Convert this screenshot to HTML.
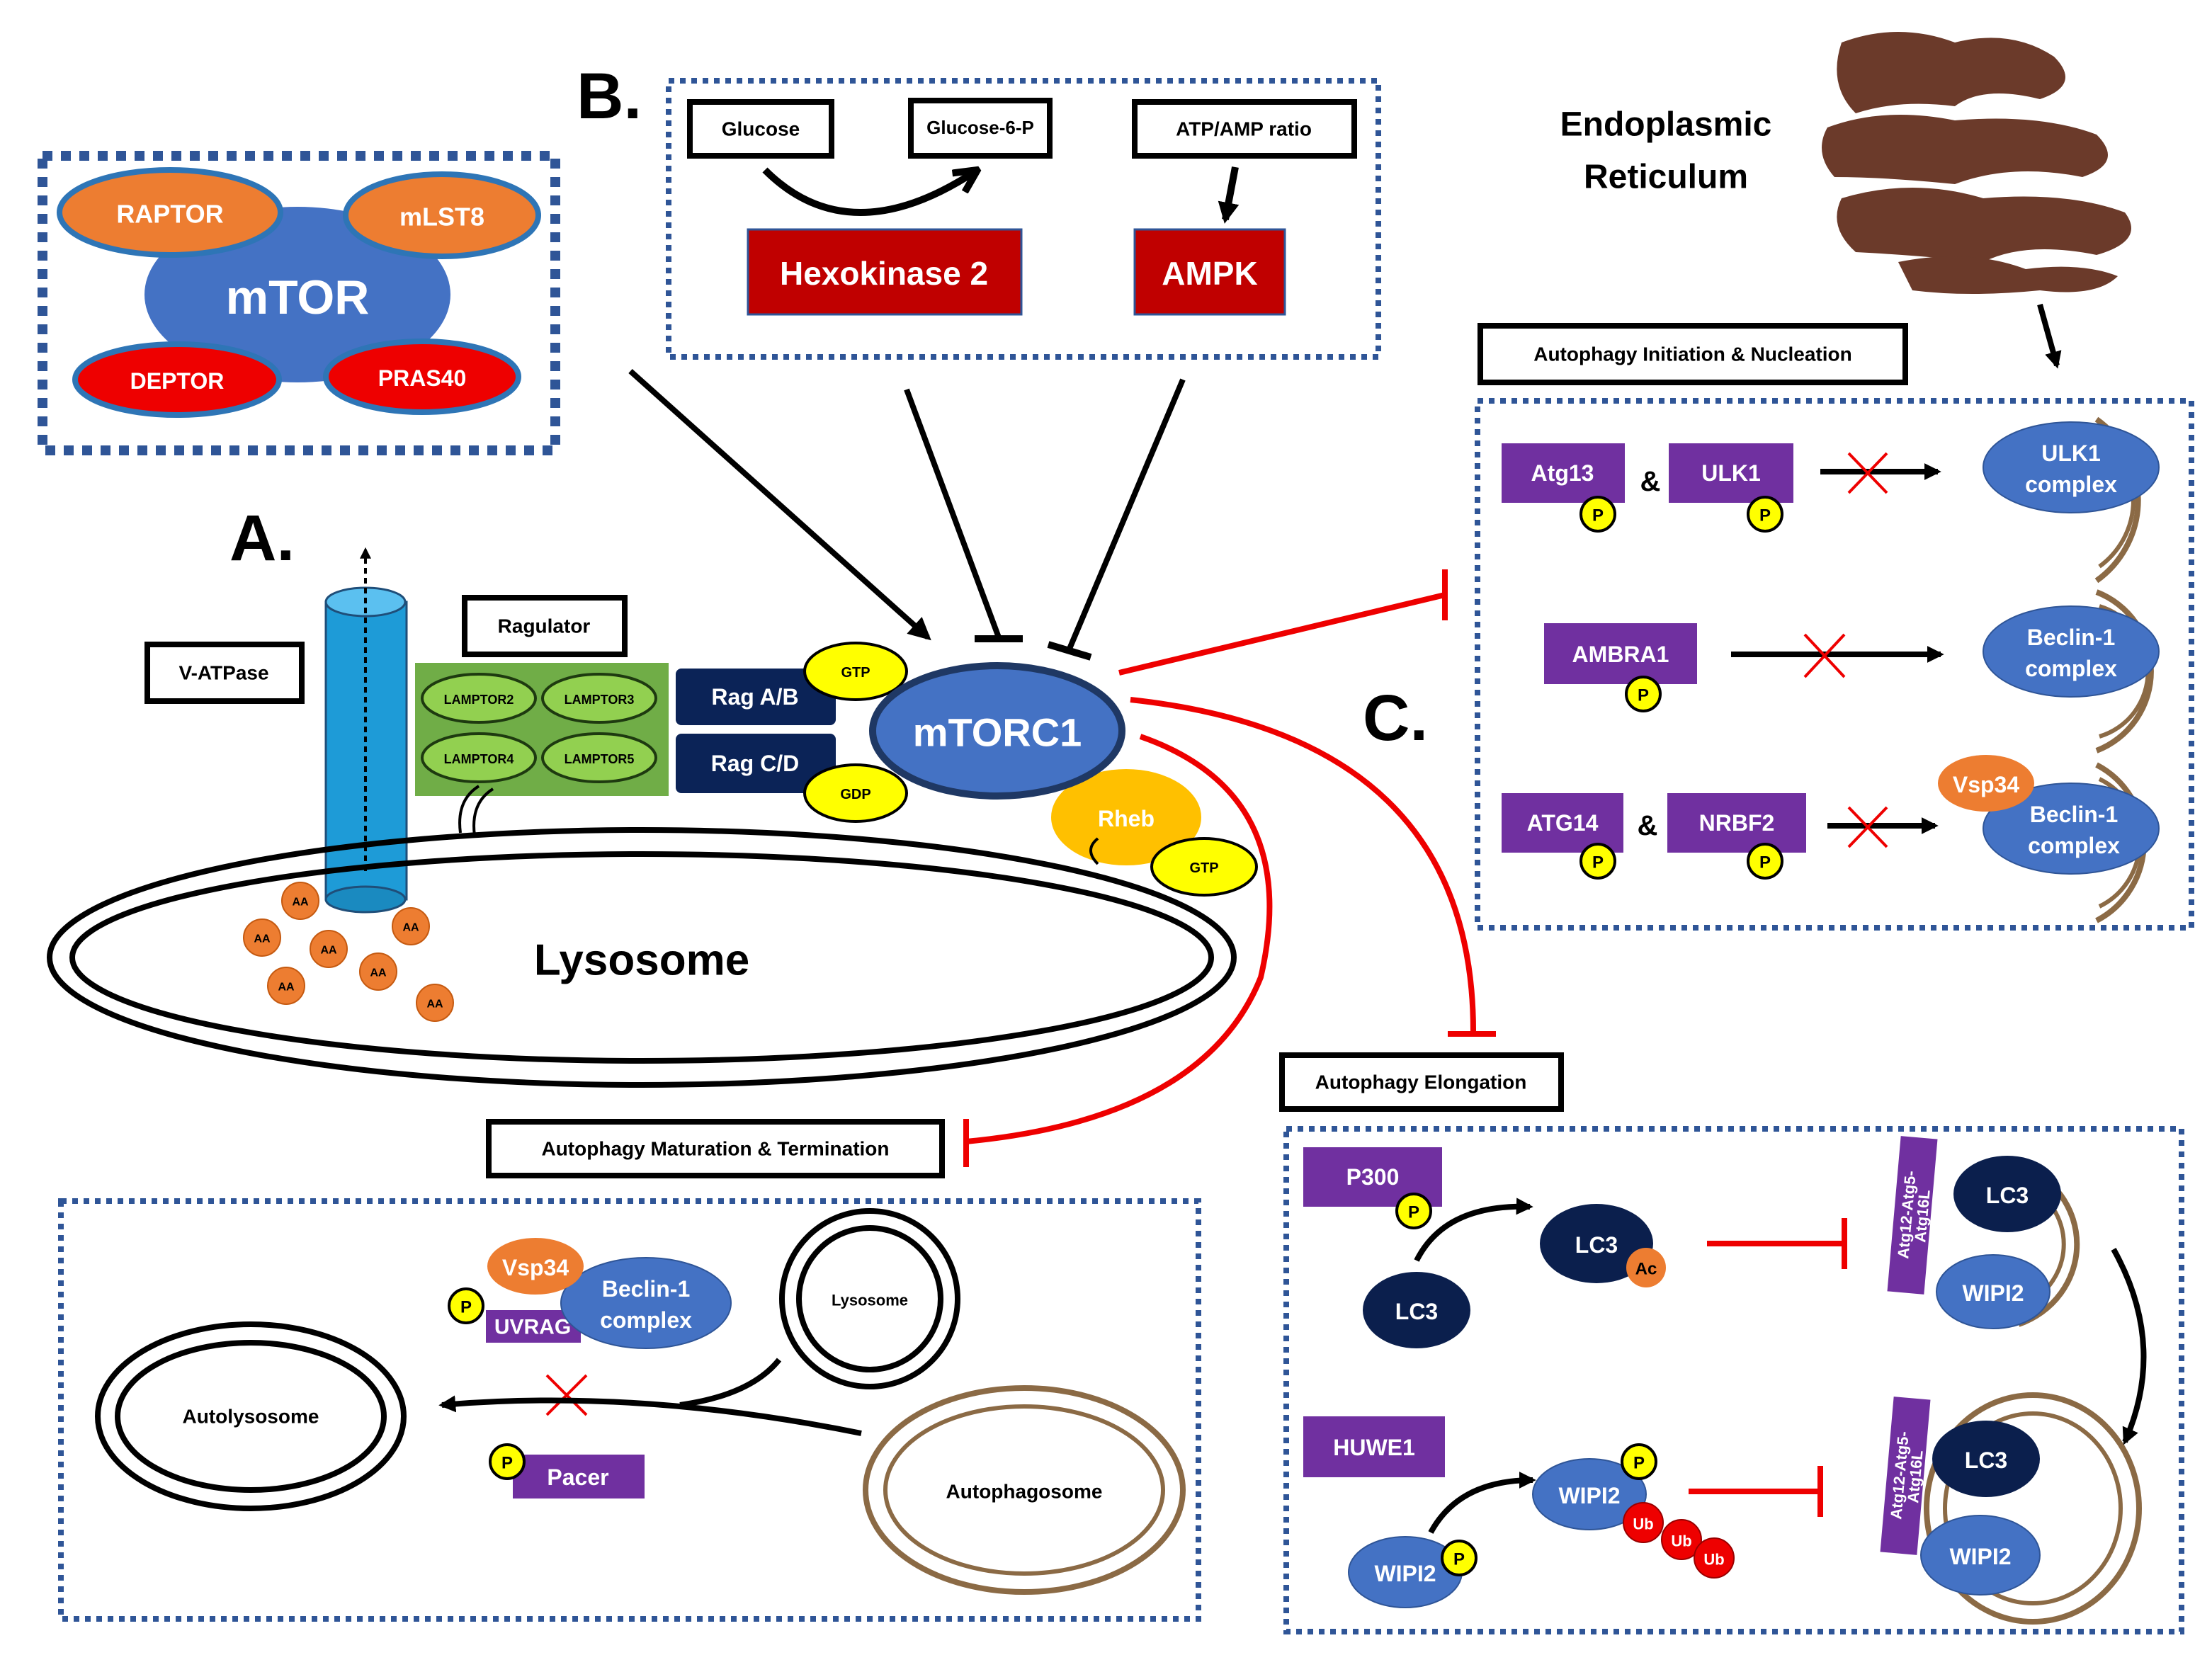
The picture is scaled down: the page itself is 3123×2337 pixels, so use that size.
<!DOCTYPE html>
<html><head><meta charset="utf-8"><style>
html,body{margin:0;padding:0;background:#fff;}
svg{display:block;}
text{font-family:"Liberation Sans",sans-serif;font-weight:bold;text-anchor:middle;dominant-baseline:central;}
</style></head><body>
<svg width="3123" height="2337" viewBox="0 0 1561.5 1168.5" xmlns="http://www.w3.org/2000/svg">
<defs>
<marker id="ah" viewBox="0 0 10 10" refX="8" refY="5" markerWidth="4" markerHeight="4" orient="auto"><path d="M0,0 L10,5 L0,10 Z" fill="#000"/></marker>
<marker id="ahs" viewBox="0 0 10 10" refX="8" refY="5" markerWidth="3" markerHeight="3" orient="auto"><path d="M0,0 L10,5 L0,10 Z" fill="#000"/></marker>
<marker id="op" viewBox="0 0 10 10" refX="9" refY="5" markerWidth="4" markerHeight="4" orient="auto"><path d="M1,1 L9,5 L1,9" fill="none" stroke="#000" stroke-width="2.5"/></marker>
</defs>
<rect width="1561.5" height="1168.5" fill="#fff"/>

<rect x="30" y="110" width="362" height="208" fill="none" stroke="#2f5597" stroke-width="7" stroke-dasharray="7 6"/>
<ellipse cx="210" cy="208" rx="108" ry="62" fill="#4472c4"/>
<text x="210" y="210" font-size="34" fill="#fff">mTOR</text>
<ellipse cx="120" cy="150" rx="78" ry="30" fill="#ed7d31" stroke="#2e75b6" stroke-width="4"/>
<text x="120" y="151" font-size="18" fill="#fff" font-weight="normal">RAPTOR</text>
<ellipse cx="312" cy="152" rx="68" ry="29" fill="#ed7d31" stroke="#2e75b6" stroke-width="4"/>
<text x="312" y="153" font-size="18" fill="#fff" font-weight="normal">mLST8</text>
<ellipse cx="125" cy="268" rx="72" ry="25" fill="#e00" stroke="#2e75b6" stroke-width="4"/>
<text x="125" y="269" font-size="16" fill="#fff" font-weight="normal">DEPTOR</text>
<ellipse cx="298" cy="266" rx="68" ry="25" fill="#e00" stroke="#2e75b6" stroke-width="4"/>
<text x="298" y="267" font-size="16" fill="#fff" font-weight="normal">PRAS40</text>

<text x="430" y="68" font-size="46">B.</text>
<rect x="472" y="57" width="501" height="195" fill="none" stroke="#2f5597" stroke-width="4" stroke-dasharray="4 4"/>
<rect x="487" y="72" width="100" height="38" fill="#fff" stroke="#000" stroke-width="4"/>
<text x="537" y="91" font-size="14">Glucose</text>
<rect x="643" y="71" width="98" height="39" fill="#fff" stroke="#000" stroke-width="4"/>
<text x="692" y="90" font-size="13">Glucose-6-P</text>
<rect x="801" y="72" width="155" height="38" fill="#fff" stroke="#000" stroke-width="4"/>
<text x="878" y="91" font-size="14">ATP/AMP ratio</text>
<rect x="528" y="162" width="193" height="60" fill="#c00000" stroke="#2f5597" stroke-width="1.5"/>
<text x="624" y="193" font-size="23" fill="#fff">Hexokinase 2</text>
<rect x="801" y="162" width="106" height="60" fill="#c00000" stroke="#2f5597" stroke-width="1.5"/>
<text x="854" y="193" font-size="23" fill="#fff">AMPK</text>
<path d="M540,120 Q600,180 690,120" fill="none" stroke="#000" stroke-width="5" marker-end="url(#op)"/>
<line x1="872" y1="118" x2="865" y2="155" stroke="#000" stroke-width="5" marker-end="url(#ahs)"/>

<line x1="445" y1="262" x2="655" y2="450" stroke="#000" stroke-width="4" marker-end="url(#ah)"/>
<line x1="640" y1="275" x2="705" y2="450" stroke="#000" stroke-width="4"/>
<line x1="688" y1="451" x2="722" y2="451" stroke="#000" stroke-width="5"/>
<line x1="835" y1="268" x2="755" y2="458" stroke="#000" stroke-width="4"/>
<line x1="740" y1="455" x2="770" y2="464" stroke="#000" stroke-width="5"/>

<text x="185" y="380" font-size="46">A.</text>
<rect x="104" y="455" width="109" height="40" fill="#fff" stroke="#000" stroke-width="4"/>
<text x="158" y="475" font-size="14">V-ATPase</text>
<rect x="230" y="425" width="57" height="210" fill="#1e9bd7" stroke="#1f4e79" stroke-width="1.5"/>
<ellipse cx="258" cy="425" rx="28" ry="10" fill="#5bc0f0" stroke="#1f4e79" stroke-width="1.5"/>
<ellipse cx="258" cy="635" rx="28" ry="9" fill="#1a8ac0" stroke="#1f4e79" stroke-width="1.5"/>
<line x1="258" y1="615" x2="258" y2="388" stroke="#000" stroke-width="2" stroke-dasharray="4 3" marker-end="url(#ah)"/>
<rect x="328" y="422" width="113" height="40" fill="#fff" stroke="#000" stroke-width="4"/>
<text x="384" y="442" font-size="14">Ragulator</text>
<rect x="293" y="468" width="179" height="94" fill="#70ad47"/>
<g fill="#92d050" stroke="#1e3a10" stroke-width="2">
<ellipse cx="338" cy="493" rx="40" ry="17"/><ellipse cx="423" cy="493" rx="40" ry="17"/>
<ellipse cx="338" cy="535" rx="40" ry="17"/><ellipse cx="423" cy="535" rx="40" ry="17"/>
</g>
<text x="338" y="494" font-size="9" font-weight="normal">LAMPTOR2</text>
<text x="423" y="494" font-size="9" font-weight="normal">LAMPTOR3</text>
<text x="338" y="536" font-size="9" font-weight="normal">LAMPTOR4</text>
<text x="423" y="536" font-size="9" font-weight="normal">LAMPTOR5</text>
<path d="M325,588 Q322,565 338,555 M335,590 Q332,567 348,557" fill="none" stroke="#000" stroke-width="2"/>
<rect x="477" y="472" width="113" height="40" rx="4" fill="#0b2357"/>
<text x="533" y="492" font-size="16" fill="#fff">Rag A/B</text>
<rect x="477" y="518" width="113" height="42" rx="4" fill="#0b2357"/>
<text x="533" y="539" font-size="16" fill="#fff">Rag C/D</text>
<ellipse cx="604" cy="474" rx="36" ry="20" fill="#ffff00" stroke="#000" stroke-width="2"/>
<text x="604" y="475" font-size="10" font-weight="normal">GTP</text>
<ellipse cx="604" cy="560" rx="36" ry="20" fill="#ffff00" stroke="#000" stroke-width="2"/>
<text x="604" y="561" font-size="10" font-weight="normal">GDP</text>

<ellipse cx="453" cy="676" rx="418" ry="90" fill="none" stroke="#000" stroke-width="4"/>
<ellipse cx="453" cy="676" rx="402" ry="73" fill="none" stroke="#000" stroke-width="4"/>
<text x="453" y="678" font-size="31">Lysosome</text>
<g fill="#ed7d31" stroke="#c55a11" stroke-width="1">
<circle cx="212" cy="636" r="13"/><circle cx="185" cy="662" r="13"/><circle cx="232" cy="670" r="13"/><circle cx="290" cy="654" r="13"/><circle cx="202" cy="696" r="13"/><circle cx="267" cy="686" r="13"/><circle cx="307" cy="708" r="13"/>
</g>
<g font-size="8"><text x="212" y="637">AA</text><text x="185" y="663">AA</text><text x="232" y="671">AA</text><text x="290" y="655">AA</text><text x="202" y="697">AA</text><text x="267" y="687">AA</text><text x="307" y="709">AA</text></g>

<ellipse cx="795" cy="577" rx="53" ry="34" fill="#ffc000"/>
<text x="795" y="578" font-size="16" fill="#fff">Rheb</text>
<path d="M775,610 Q765,600 775,592" fill="none" stroke="#000" stroke-width="2"/>
<ellipse cx="850" cy="612" rx="37" ry="20" fill="#ffff00" stroke="#000" stroke-width="2"/>
<text x="850" y="613" font-size="10" font-weight="normal">GTP</text>
<ellipse cx="704" cy="516" rx="88" ry="46" fill="#4472c4" stroke="#1f3864" stroke-width="5"/>
<text x="704" y="517" font-size="28" fill="#fff">mTORC1</text>

<g stroke="#e00" stroke-width="4" fill="none">
<line x1="790" y1="475" x2="1020" y2="420"/>
<line x1="1020" y1="402" x2="1020" y2="438"/>
<path d="M798,494 Q1040,520 1040,728"/>
<line x1="1022" y1="730" x2="1056" y2="730"/>
<path d="M805,520 Q920,560 890,690 Q850,790 682,806"/>
<line x1="682" y1="790" x2="682" y2="824"/>
</g>

<text x="1176" y="88" font-size="24">Endoplasmic</text>
<text x="1176" y="125" font-size="24">Reticulum</text>
<g fill="#6b3a2a">
<path d="M1300,30 Q1340,15 1380,30 Q1420,20 1450,40 Q1470,60 1440,70 Q1400,60 1380,75 Q1340,70 1310,80 Q1290,60 1300,30 Z"/>
<path d="M1290,90 Q1330,75 1380,85 Q1440,80 1480,95 Q1500,115 1470,125 Q1420,115 1380,130 Q1330,125 1295,125 Q1280,108 1290,90 Z"/>
<path d="M1300,140 Q1350,125 1400,140 Q1460,135 1500,150 Q1515,170 1480,180 Q1430,170 1400,185 Q1350,180 1310,178 Q1290,160 1300,140 Z"/>
<path d="M1340,185 Q1390,175 1430,190 Q1470,185 1495,195 Q1480,210 1440,205 Q1390,210 1350,205 Z"/>
</g>
<line x1="1440" y1="215" x2="1452" y2="258" stroke="#000" stroke-width="4" marker-end="url(#ahs)"/>

<text x="985" y="507" font-size="46">C.</text>
<rect x="1045" y="230" width="300" height="40" fill="#fff" stroke="#000" stroke-width="4"/>
<text x="1195" y="250" font-size="14">Autophagy Initiation &amp; Nucleation</text>
<rect x="1043" y="283" width="504" height="372" fill="none" stroke="#2f5597" stroke-width="4" stroke-dasharray="4 4"/>

<g fill="#7030a0">
<rect x="1060" y="313" width="87" height="42"/><rect x="1178" y="313" width="88" height="42"/>
<rect x="1090" y="440" width="108" height="43"/>
<rect x="1060" y="560" width="86" height="42"/><rect x="1177" y="560" width="98" height="42"/>
<rect x="920" y="810" width="98" height="42"/><rect x="920" y="1000" width="100" height="43"/>
<rect x="362" y="1027" width="93" height="31"/><rect x="343" y="925" width="67" height="23"/>
</g>
<g font-size="16" fill="#fff">
<text x="1103" y="334">Atg13</text><text x="1222" y="334">ULK1</text><text x="1144" y="462">AMBRA1</text>
<text x="1103" y="581">ATG14</text><text x="1226" y="581">NRBF2</text>
<text x="969" y="831">P300</text><text x="970" y="1022">HUWE1</text>
<text x="408" y="1043">Pacer</text><text x="376" y="937" font-size="15">UVRAG</text>
</g>
<text x="1165" y="340" font-size="20" font-weight="normal">&amp;</text>
<text x="1163" y="583" font-size="20" font-weight="normal">&amp;</text>

<g stroke="#000" stroke-width="4">
<line x1="1285" y1="333" x2="1368" y2="333" marker-end="url(#ahs)"/>
<line x1="1222" y1="462" x2="1370" y2="462" marker-end="url(#ahs)"/>
<line x1="1290" y1="583" x2="1366" y2="583" marker-end="url(#ahs)"/>
</g>
<g stroke="#e00" stroke-width="2">
<path d="M1305,320 L1332,348 M1332,320 L1305,348"/>
<path d="M1274,448 L1302,478 M1302,448 L1274,478"/>
<path d="M1305,570 L1332,598 M1332,570 L1305,598"/>
<path d="M386,971 L414,999 M414,971 L386,999"/>
</g>

<g fill="none" stroke="#8b6a45" stroke-width="4">
<path d="M1480,296 A70,70 0 0 1 1480,410"/><path d="M1482,306 A58,58 0 0 1 1482,400" stroke-width="3"/>
<path d="M1480,418 A60,60 0 0 1 1480,530"/><path d="M1482,428 A48,48 0 0 1 1482,520" stroke-width="3"/>
<path d="M1480,540 A62,62 0 0 1 1480,650"/><path d="M1482,550 A50,50 0 0 1 1482,640" stroke-width="3"/>
<path d="M1425,822 A62,60 0 0 1 1425,935"/><path d="M1428,835 A50,48 0 0 1 1428,922" stroke-width="3"/>
<ellipse cx="1435" cy="1065" rx="75" ry="80"/><ellipse cx="1435" cy="1065" rx="62" ry="67" stroke-width="3"/>
<ellipse cx="723" cy="1052" rx="112" ry="72"/><ellipse cx="723" cy="1052" rx="98" ry="59" stroke-width="3"/>
</g>
<g fill="#4472c4" stroke="#2f5597" stroke-width="1">
<ellipse cx="1462" cy="330" rx="62" ry="32"/><ellipse cx="1462" cy="460" rx="62" ry="32"/><ellipse cx="1462" cy="585" rx="62" ry="32"/>
<ellipse cx="456" cy="920" rx="60" ry="32"/>
<ellipse cx="1407" cy="912" rx="40" ry="26"/><ellipse cx="1398" cy="1098" rx="42" ry="28"/>
<ellipse cx="992" cy="1110" rx="40" ry="25"/><ellipse cx="1122" cy="1055" rx="40" ry="25"/>
</g>
<g font-size="16" fill="#fff">
<text x="1462" y="320">ULK1</text><text x="1462" y="342">complex</text>
<text x="1462" y="450">Beclin-1</text><text x="1462" y="472">complex</text>
<text x="1464" y="575">Beclin-1</text><text x="1464" y="597">complex</text>
<text x="456" y="910">Beclin-1</text><text x="456" y="932">complex</text>
<text x="1407" y="913">WIPI2</text><text x="1398" y="1099">WIPI2</text>
<text x="992" y="1111">WIPI2</text><text x="1122" y="1056">WIPI2</text>
</g>
<ellipse cx="1402" cy="553" rx="34" ry="20" fill="#ed7d31"/>
<text x="1402" y="554" font-size="16" fill="#fff">Vsp34</text>
<ellipse cx="378" cy="894" rx="34" ry="20" fill="#ed7d31"/>
<text x="378" y="895" font-size="16" fill="#fff">Vsp34</text>

<g fill="#ffff00" stroke="#000" stroke-width="2">
<circle cx="1128" cy="363" r="12"/><circle cx="1246" cy="363" r="12"/><circle cx="1160" cy="490" r="12"/>
<circle cx="1128" cy="608" r="12"/><circle cx="1246" cy="608" r="12"/><circle cx="998" cy="855" r="12"/>
<circle cx="1030" cy="1100" r="12"/><circle cx="1157" cy="1032" r="12"/><circle cx="329" cy="922" r="12"/><circle cx="358" cy="1032" r="12"/>
</g>
<g font-size="12">
<text x="1128" y="364">P</text><text x="1246" y="364">P</text><text x="1160" y="491">P</text>
<text x="1128" y="609">P</text><text x="1246" y="609">P</text><text x="998" y="856">P</text>
<text x="1030" y="1101">P</text><text x="1157" y="1033">P</text><text x="329" y="923">P</text><text x="358" y="1033">P</text>
</g>

<rect x="905" y="745" width="197" height="38" fill="#fff" stroke="#000" stroke-width="4"/>
<text x="1003" y="764" font-size="14">Autophagy Elongation</text>
<rect x="908" y="797" width="632" height="355" fill="none" stroke="#2f5597" stroke-width="4" stroke-dasharray="4 4"/>
<g fill="#0b1f4d">
<ellipse cx="1000" cy="925" rx="38" ry="27"/><ellipse cx="1127" cy="878" rx="40" ry="28"/>
<ellipse cx="1417" cy="843" rx="38" ry="27"/><ellipse cx="1402" cy="1030" rx="38" ry="27"/>
</g>
<g font-size="16" fill="#fff">
<text x="1000" y="926">LC3</text><text x="1127" y="879">LC3</text><text x="1417" y="844">LC3</text><text x="1402" y="1031">LC3</text>
</g>
<circle cx="1162" cy="895" r="14" fill="#ed7d31"/><text x="1162" y="896" font-size="12">Ac</text>
<path d="M1000,890 Q1020,850 1080,852" fill="none" stroke="#000" stroke-width="4" marker-end="url(#ahs)"/>
<path d="M1010,1082 Q1030,1045 1082,1045" fill="none" stroke="#000" stroke-width="4" marker-end="url(#ahs)"/>
<path d="M1492,882 Q1530,950 1500,1018" fill="none" stroke="#000" stroke-width="4" marker-end="url(#ahs)"/>
<g stroke="#e00" stroke-width="4">
<line x1="1205" y1="878" x2="1302" y2="878"/><line x1="1302" y1="860" x2="1302" y2="896"/>
<line x1="1192" y1="1053" x2="1285" y2="1053"/><line x1="1285" y1="1035" x2="1285" y2="1071"/>
</g>
<g fill="#e00" stroke="#900" stroke-width="1">
<circle cx="1160" cy="1075" r="14"/><circle cx="1187" cy="1087" r="14"/><circle cx="1210" cy="1100" r="14"/>
</g>
<g font-size="11" fill="#fff"><text x="1160" y="1076">Ub</text><text x="1187" y="1088">Ub</text><text x="1210" y="1101">Ub</text></g>
<g transform="translate(1350,858) rotate(-85)"><rect x="-55" y="-13" width="110" height="26" fill="#7030a0"/>
<text x="0" y="-4" font-size="11" fill="#fff">Atg12-Atg5-</text><text x="0" y="7" font-size="11" fill="#fff">Atg16L</text></g>
<g transform="translate(1345,1042) rotate(-85)"><rect x="-55" y="-13" width="110" height="26" fill="#7030a0"/>
<text x="0" y="-4" font-size="11" fill="#fff">Atg12-Atg5-</text><text x="0" y="7" font-size="11" fill="#fff">Atg16L</text></g>

<rect x="345" y="792" width="320" height="38" fill="#fff" stroke="#000" stroke-width="4"/>
<text x="505" y="811" font-size="14">Autophagy Maturation &amp; Termination</text>
<rect x="43" y="848" width="803" height="295" fill="none" stroke="#2f5597" stroke-width="4" stroke-dasharray="4 4"/>
<ellipse cx="177" cy="1000" rx="108" ry="65" fill="none" stroke="#000" stroke-width="4"/>
<ellipse cx="177" cy="1000" rx="94" ry="52" fill="none" stroke="#000" stroke-width="4"/>
<text x="177" y="1000" font-size="14">Autolysosome</text>
<circle cx="614" cy="917" r="62" fill="none" stroke="#000" stroke-width="4"/>
<circle cx="614" cy="917" r="50" fill="none" stroke="#000" stroke-width="4"/>
<text x="614" y="918" font-size="11" font-weight="normal">Lysosome</text>
<text x="723" y="1053" font-size="14">Autophagosome</text>
<path d="M608,1012 Q450,980 312,992" fill="none" stroke="#000" stroke-width="4" marker-end="url(#ahs)"/>
<path d="M550,960 Q530,985 480,992" fill="none" stroke="#000" stroke-width="4"/>
</svg>
</body></html>
